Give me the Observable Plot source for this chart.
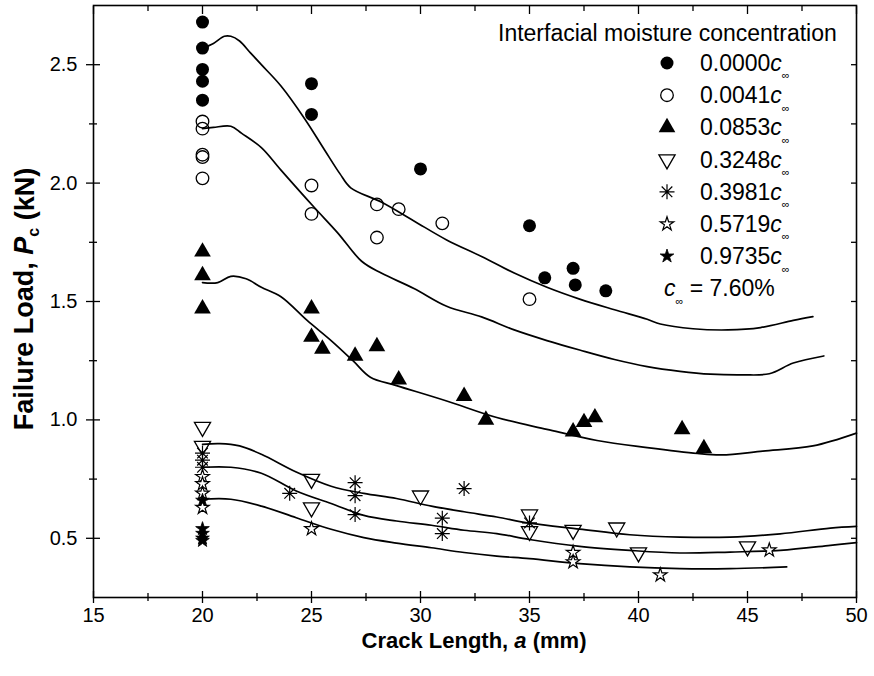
<!DOCTYPE html>
<html><head><meta charset="utf-8">
<script src="https://cdn.jsdelivr.net/npm/d3@7"></script>
<script src="https://cdn.jsdelivr.net/npm/@observablehq/plot@0.6"></script>
<style>body{margin:0;background:#fff;} #chart{width:874px;height:676px;}</style>
</head><body><div id="chart"></div>
<script>
// ---- Measured points: [crack length a (mm), failure load Pc (kN)] ----
const pts_0000 = [[20,2.68],[20,2.57],[20,2.48],[20,2.43],[20,2.35],[25,2.42],[25,2.29],[30,2.06],[35,1.82],[35.7,1.60],[37,1.64],[37.1,1.57],[38.5,1.545]];
const pts_0041 = [[20,2.26],[20,2.23],[20,2.12],[20,2.11],[20,2.02],[25,1.99],[25,1.87],[28,1.91],[28,1.77],[29,1.89],[31,1.83],[35,1.51]];
const pts_0853 = [[20,1.71],[20,1.61],[20,1.47],[25,1.47],[25,1.35],[25.5,1.30],[27,1.27],[28,1.31],[29,1.17],[32,1.10],[33,1.00],[37,0.95],[37.5,0.99],[38,1.01],[42,0.96],[43,0.88]];
const pts_3248 = [[20,0.97],[20,0.89],[25,0.75],[25,0.63],[30,0.68],[35,0.60],[35,0.53],[37,0.535],[39,0.545],[40,0.44],[45,0.465]];
const pts_3981 = [[20,0.86],[20,0.83],[20,0.80],[24,0.69],[27,0.735],[27,0.68],[27,0.60],[31,0.585],[31,0.52],[32,0.71],[35,0.565]];
const pts_5719 = [[20,0.76],[20,0.73],[20,0.69],[20,0.63],[25,0.54],[37,0.44],[37,0.40],[41,0.345],[46,0.45]];
const pts_9735 = [[20,0.66],[20,0.54],[20,0.52],[20,0.50],[20,0.49]];

// ---- Predicted curves ----
const fit_0000 = [[20.0,2.57],[20.5,2.59],[21.0,2.62],[21.3,2.62],[21.7,2.60],[22.2,2.55],[22.7,2.50],[23.6,2.41],[24.7,2.27],[25.6,2.14],[26.3,2.04],[26.8,1.98],[28.2,1.92],[29.7,1.84],[31.2,1.76],[32.8,1.69],[34.3,1.62],[35.8,1.56],[37.3,1.51],[38.9,1.465],[40.4,1.425],[41.0,1.405],[42.5,1.385],[44.1,1.38],[45.6,1.39],[47.1,1.42],[48.0,1.436]];
const fit_0041 = [[20.0,2.23],[20.5,2.235],[21.3,2.24],[21.8,2.21],[22.7,2.15],[23.6,2.055],[25.1,1.90],[26.2,1.79],[27.3,1.67],[28.2,1.62],[29.7,1.555],[31.2,1.48],[32.8,1.435],[34.3,1.38],[35.8,1.335],[37.3,1.295],[38.9,1.255],[40.4,1.225],[41.9,1.205],[43.3,1.193],[44.8,1.19],[46.0,1.195],[47.1,1.24],[48.5,1.27]];
const fit_0853 = [[20.0,1.58],[20.7,1.58],[21.3,1.606],[22.0,1.596],[22.7,1.56],[23.6,1.52],[24.8,1.42],[25.9,1.335],[26.9,1.25],[27.7,1.18],[28.9,1.145],[31.2,1.08],[33.5,1.01],[35.8,0.96],[38.1,0.913],[40.4,0.883],[42.7,0.858],[43.8,0.852],[45.7,0.868],[48.0,0.89],[50.0,0.944]];
const fit_low1 = [[20.0,0.897],[20.8,0.90],[21.7,0.89],[22.7,0.855],[24.3,0.78],[25.9,0.72],[27.4,0.69],[28.9,0.668],[30.5,0.636],[32.0,0.612],[33.5,0.59],[35.0,0.564],[37.3,0.539],[39.6,0.515],[41.9,0.505],[44.2,0.505],[46.5,0.519],[48.8,0.543],[50.0,0.55]];
const fit_low2 = [[20.0,0.80],[21.3,0.80],[22.7,0.775],[24.3,0.70],[25.9,0.647],[27.4,0.597],[28.9,0.573],[30.5,0.555],[32.0,0.534],[33.5,0.52],[35.0,0.495],[37.3,0.466],[39.6,0.449],[41.9,0.438],[44.2,0.442],[46.5,0.449],[48.8,0.47],[50.0,0.482]];
const fit_low3 = [[20.0,0.665],[21.3,0.665],[22.7,0.636],[24.3,0.587],[25.9,0.538],[27.4,0.503],[28.9,0.48],[30.5,0.46],[32.0,0.44],[33.5,0.425],[35.0,0.414],[37.3,0.393],[39.6,0.379],[41.9,0.372],[44.2,0.372],[46.8,0.379]];

// ---- Legend labels and ticks ----
const legendTitle = "Interfacial moisture concentration";
const legendKeys = ["0.0000","0.0041","0.0853","0.3248","0.3981","0.5719","0.9735"];
const cInf = "7.60%";
const xMajor = [15,20,25,30,35,40,45,50];
const xMinor = [17.5,22.5,27.5,32.5,37.5,42.5,47.5];
const yMajor = [0.5,1.0,1.5,2.0,2.5];
const yMinor = [0.75,1.25,1.75,2.25];

// ---- custom symbols ----
const sqrt3 = Math.sqrt(3);
const triDown = {draw(ctx, size) {
  const y = -Math.sqrt(size / (sqrt3 * 3));
  ctx.moveTo(0, -y * 2); ctx.lineTo(-sqrt3 * y, y); ctx.lineTo(sqrt3 * y, y); ctx.closePath();
}};
const asterisk8 = {draw(ctx, size) {
  const r = Math.sqrt(size / Math.PI), d = r * Math.SQRT1_2;
  ctx.moveTo(0, -r); ctx.lineTo(0, r);
  ctx.moveTo(-r, 0); ctx.lineTo(r, 0);
  ctx.moveTo(-d, -d); ctx.lineTo(d, d);
  ctx.moveTo(-d, d); ctx.lineTo(d, -d);
}};

const series = [
  {key: legendKeys[0], pts: pts_0000, symbol: d3.symbolCircle, fill: "black", stroke: "none", r: 6.5, sw: 0},
  {key: legendKeys[1], pts: pts_0041, symbol: d3.symbolCircle, fill: "none", stroke: "black", r: 6.3, sw: 1.3},
  {key: legendKeys[2], pts: pts_0853, symbol: d3.symbolTriangle, fill: "black", stroke: "none", r: 6.2, sw: 0},
  {key: legendKeys[3], pts: pts_3248, symbol: triDown, fill: "none", stroke: "black", r: 6.0, sw: 1.3},
  {key: legendKeys[4], pts: pts_3981, symbol: asterisk8, fill: "none", stroke: "black", r: 7.5, sw: 1.2},
  {key: legendKeys[5], pts: pts_5719, symbol: d3.symbolStar, fill: "white", stroke: "black", r: 4.3, sw: 1.2},
  {key: legendKeys[6], pts: pts_9735, symbol: d3.symbolStar, fill: "black", stroke: "black", r: 4.3, sw: 0.8}
];
const fits = [fit_0000, fit_0041, fit_0853, fit_low1, fit_low2, fit_low3];

const FONT = "'Liberation Sans', Arial, Helvetica, sans-serif";
const tickStyle = {fill: "none", label: null, stroke: "black", strokeWidth: 1.3};

const plot = Plot.plot({
  width: 874, height: 676,
  marginLeft: 93, marginRight: 18, marginTop: 5, marginBottom: 79,
  x: {domain: [15, 50]},
  y: {domain: [0.25, 2.75]},
  style: {fontFamily: FONT, fontSize: "20px", color: "black", background: "white"},
  marks: [
    ...fits.map(f => Plot.line(f, {curve: "catmull-rom", stroke: "black", strokeWidth: 1.7})),
    ...series.map(s => Plot.dot(s.pts, {symbol: s.symbol, r: s.r, fill: s.fill, stroke: s.stroke, strokeWidth: s.sw})),
    Plot.frame({stroke: "black", strokeWidth: 1.6}),
    // bottom ticks (crossing)
    Plot.axisX({anchor: "bottom", ticks: xMajor, tickSize: 12, dy: -6, ...tickStyle}),
    Plot.axisX({anchor: "bottom", ticks: xMinor, tickSize: 8, dy: -4, ...tickStyle}),
    // top ticks (inside)
    Plot.axisX({anchor: "top", ticks: xMajor, tickSize: 8, dy: 8, ...tickStyle}),
    Plot.axisX({anchor: "top", ticks: xMinor, tickSize: 5, dy: 5, ...tickStyle}),
    // left ticks (crossing)
    Plot.axisY({anchor: "left", ticks: yMajor, tickSize: 14, dx: 7, ...tickStyle}),
    Plot.axisY({anchor: "left", ticks: yMinor, tickSize: 8, dx: 4, ...tickStyle}),
    // right ticks (inside)
    Plot.axisY({anchor: "right", ticks: yMajor, tickSize: 6, dx: -6, ...tickStyle}),
    Plot.axisY({anchor: "right", ticks: yMinor, tickSize: 6, dx: -6, ...tickStyle}),
    // tick labels
    Plot.axisX({anchor: "bottom", ticks: xMajor, tickSize: 0, tickPadding: 10, label: null, fontSize: 20}),
    Plot.axisY({anchor: "left", ticks: yMajor, tickSize: 0, tickPadding: 16, tickFormat: d3.format(".1f"), label: null, fontSize: 20})
  ]
});
document.getElementById("chart").appendChild(plot);

// ---- legend and axis titles as SVG text ----
const svg = d3.select(plot);
const g = svg.append("g").attr("font-family", FONT).attr("fill", "black").attr("text-anchor", "start");
g.append("text").attr("x", 498).attr("y", 33).attr("dy", "0.35em").attr("font-size", 23).text(legendTitle);
series.forEach((s, i) => {
  const cy = 63 + i * 32.2;
  g.append("path").attr("transform", `translate(667,${cy})`)
    .attr("d", d3.symbol(s.symbol, Math.PI * s.r * s.r)())
    .attr("fill", s.fill).attr("stroke", s.stroke).attr("stroke-width", s.sw);
  const t = g.append("text").attr("x", 700).attr("y", cy).attr("dy", "0.35em").attr("font-size", 23);
  t.append("tspan").text(s.key);
  t.append("tspan").attr("font-style", "italic").text("c");
  t.append("tspan").attr("font-size", 11).attr("dy", "0.75em").text("∞");
});
{
  const cy = 63 + 7 * 32.2;
  const t = g.append("text").attr("x", 664).attr("y", cy).attr("dy", "0.35em").attr("font-size", 23);
  t.append("tspan").attr("font-style", "italic").text("c");
  t.append("tspan").attr("font-size", 11).attr("dy", "0.75em").text("∞");
  t.append("tspan").attr("dy", "-0.36em").text(" = " + cInf);
}
// x title
{
  const t = g.append("text").attr("x", 474).attr("y", 640).attr("dy", "0.35em")
    .attr("text-anchor", "middle").attr("font-size", 22).attr("font-weight", "bold");
  t.append("tspan").text("Crack Length, ");
  t.append("tspan").attr("font-style", "italic").text("a");
  t.append("tspan").text(" (mm)");
}
// y title
{
  const t = g.append("text").attr("transform", "translate(24,299) rotate(-90)").attr("dy", "0.35em")
    .attr("text-anchor", "middle").attr("font-size", 27).attr("font-weight", "bold");
  t.append("tspan").text("Failure Load, ");
  t.append("tspan").attr("font-style", "italic").text("P");
  t.append("tspan").attr("font-size", 16).attr("dy", "0.35em").text("c");
  t.append("tspan").attr("dy", "-0.2em").text(" (kN)");
}
</script>
</body></html>
